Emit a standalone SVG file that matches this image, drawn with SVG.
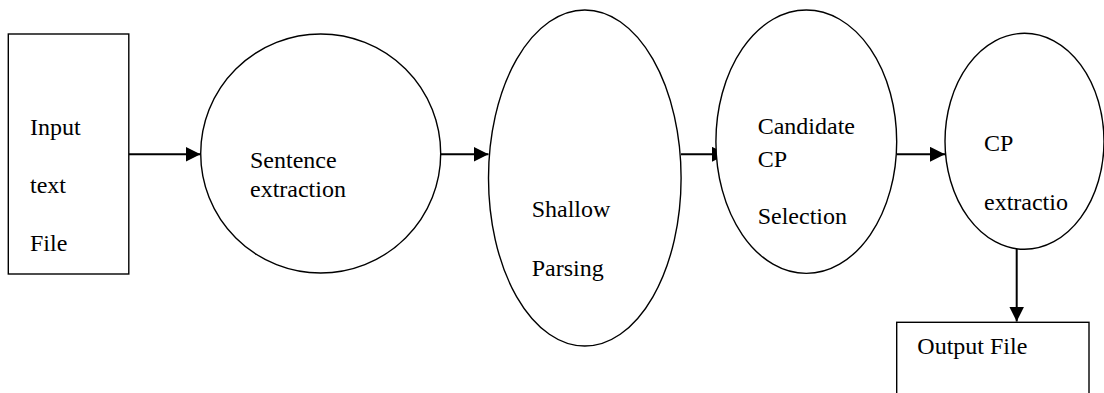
<svg xmlns="http://www.w3.org/2000/svg" width="1104" height="393" viewBox="0 0 1104 393">
<style>
.shape{fill:#fff;stroke:#000;stroke-width:1.4}
.conn{stroke:#000;stroke-width:2;fill:none}
text{font-family:"Liberation Serif","Times New Roman",serif;font-size:24px;fill:#000}
</style>
<defs>
<marker id="ah" markerUnits="userSpaceOnUse" markerWidth="16" markerHeight="16" refX="15" refY="7.5" orient="auto">
<path d="M0,0 L15,7.5 L0,15 Z" fill="#000"/>
</marker>
</defs>
<rect width="1104" height="393" fill="#fff"/>
<g id="connectors">
<line class="conn" x1="129" y1="154.3" x2="200.5" y2="154.3" marker-end="url(#ah)"/>
<line class="conn" x1="441" y1="154.3" x2="488.5" y2="154.3" marker-end="url(#ah)"/>
<line class="conn" x1="681" y1="154.3" x2="727" y2="154.3" marker-end="url(#ah)"/>
<line class="conn" x1="897" y1="154.3" x2="945" y2="154.3" marker-end="url(#ah)"/>
<line class="conn" x1="1016.7" y1="249" x2="1016.7" y2="321.5" marker-end="url(#ah)"/>
</g>
<g id="input-file">
<rect class="shape" x="8.3" y="34" width="120.5" height="240"/>
<text x="30" y="135">Input</text>
<text x="30" y="193">text</text>
<text x="30" y="251">File</text>
</g>
<g id="sentence-extraction">
<ellipse class="shape" cx="320.7" cy="153.5" rx="120" ry="119.5"/>
<text x="250" y="167.7">Sentence</text>
<text x="250" y="197.3">extraction</text>
</g>
<g id="shallow-parsing">
<ellipse class="shape" cx="584.8" cy="178" rx="96.3" ry="168"/>
<text x="531.7" y="217.3">Shallow</text>
<text x="531.7" y="276">Parsing</text>
</g>
<g id="candidate-cp-selection">
<ellipse class="shape" cx="806.3" cy="141.7" rx="90.4" ry="131.7"/>
<text x="757.7" y="134.3">Candidate</text>
<text x="757.7" y="166.7">CP</text>
<text x="757.7" y="224.3">Selection</text>
</g>
<g id="cp-extraction">
<ellipse class="shape" cx="1024.5" cy="141.3" rx="79.5" ry="108"/>
<text x="984" y="151">CP</text>
<text x="984" y="210">extractio</text>
</g>
<g id="output-file">
<rect class="shape" x="896.7" y="322.3" width="192.3" height="90"/>
<text x="917.3" y="354.3">Output File</text>
</g>
</svg>
